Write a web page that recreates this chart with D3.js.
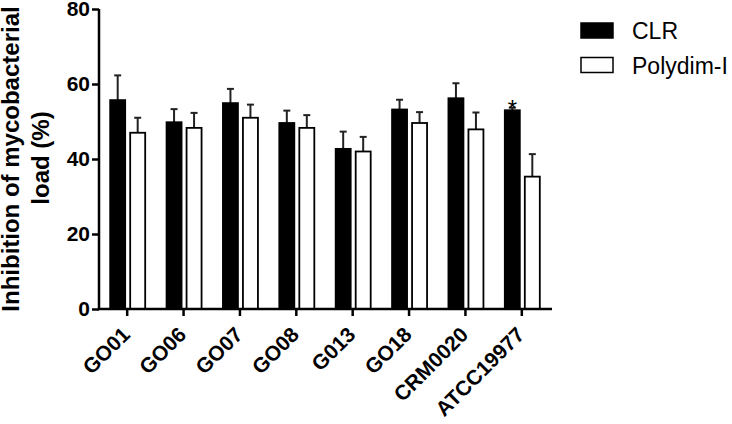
<!DOCTYPE html>
<html>
<head>
<meta charset="utf-8">
<script src="https://cdn.jsdelivr.net/npm/d3@7"></script>
<style>
  body { margin: 0; background: #fff; }
  text { font-family: Arial, "Liberation Sans", sans-serif; }
  .axis text { font-weight: bold; font-size: 21px; fill: #000; }
  .axis path, .axis line { stroke: #000; stroke-width: 2.5px; }
</style>
</head>
<body>
<div id="plotSect"></div>
<script>
// data //
let strains = ["GO01", "GO06", "GO07", "GO08", "G013", "GO18", "CRM0020", "ATCC19977"];
let seriesNames = ["CLR", "Polydim-I"];
let clrMean = [55.7, 49.8, 54.9, 49.6, 42.7, 53.2, 56.2, 53.0];
let clrErr = [6.6, 3.5, 3.8, 3.3, 4.6, 2.6, 4.0, 0.7];
let polyMean = [47.0, 48.3, 51.0, 48.3, 42.0, 49.6, 47.9, 35.3];
let polyErr = [4.0, 4.0, 3.5, 3.4, 3.9, 2.9, 4.5, 6.0];
let yTicks = [0, 20, 40, 60, 80];
let starred = ["ATCC19977"];

let SVGwidth = 732,
    SVGheight = 424;

let svg = d3.select("#plotSect").append("svg")
    .attr("width", SVGwidth)
    .attr("height", SVGheight);

let xScale = d3.scaleBand().domain(strains).range([99, 550]).padding(0);
let yScale = d3.scaleLinear().domain([0, 80]).range([309, 9]);

let fills = ["#000", "#fff"];
let means = [clrMean, polyMean];
let errs = [clrErr, polyErr];
let barW = 15;
let offsets = [-17, 3]; // from band centre

let bars = [];
strains.forEach(function(s, i) {
    for (let k = 0; k < 2; k++) {
        bars.push({strain: s, k: k, v: means[k][i], e: errs[k][i]});
    }
});

function barX(d) { return xScale(d.strain) + xScale.bandwidth() / 2 + offsets[d.k]; }

// error bars first, so the bar top covers the stem base
svg.selectAll(".errStem").data(bars).enter().append("line")
    .attr("class", "errStem")
    .attr("x1", function(d) { return barX(d) + barW / 2; })
    .attr("x2", function(d) { return barX(d) + barW / 2; })
    .attr("y1", function(d) { return yScale(d.v); })
    .attr("y2", function(d) { return yScale(d.v + d.e); })
    .style("stroke", "#222")
    .style("stroke-width", 2);

svg.selectAll(".errCap").data(bars).enter().append("line")
    .attr("class", "errCap")
    .attr("x1", function(d) { return barX(d) + barW / 2 - 3.5; })
    .attr("x2", function(d) { return barX(d) + barW / 2 + 3.5; })
    .attr("y1", function(d) { return yScale(d.v + d.e); })
    .attr("y2", function(d) { return yScale(d.v + d.e); })
    .style("stroke", "#222")
    .style("stroke-width", 2);

svg.selectAll(".bar").data(bars).enter().append("rect")
    .attr("class", "bar")
    .attr("x", barX)
    .attr("y", function(d) { return yScale(d.v); })
    .attr("width", barW)
    .attr("height", function(d) { return yScale(0) - yScale(d.v); })
    .style("fill", function(d) { return fills[d.k]; })
    .style("stroke", "#000")
    .style("stroke-width", 1.8);

// significance marks
svg.selectAll(".star").data(starred).enter().append("text")
    .attr("class", "star")
    .attr("x", function(d) { return xScale(d) + xScale.bandwidth() / 2 + offsets[0] + barW / 2; })
    .attr("y", function(d) { return yScale(clrMean[strains.indexOf(d)] + clrErr[strains.indexOf(d)]) + 9; })
    .style("text-anchor", "middle")
    .style("font-size", "24px")
    .text("*");

// axes
let yAxis = d3.axisLeft(yScale).tickValues(yTicks).tickSize(7).tickPadding(2);
svg.append("g")
    .attr("class", "axis")
    .attr("transform", "translate(99,0)")
    .call(yAxis)
    .call(function(g) { g.select(".domain").attr("d", "M0,309V9"); });

let xAxis = d3.axisBottom(xScale).tickSize(7).tickSizeOuter(0);
let xg = svg.append("g")
    .attr("class", "axis")
    .attr("transform", "translate(0,309)")
    .call(xAxis);
xg.select(".domain").attr("d", "M" + (99 - 1) + ",0H552");
xg.selectAll(".tick text")
    .attr("y", 0)
    .attr("dy", 0)
    .style("text-anchor", "end")
    .attr("transform", "translate(4,27) rotate(-45)")
    .style("font-size", "21px");

// y axis title
svg.append("text")
    .attr("transform", "translate(19,159) rotate(-90)")
    .style("text-anchor", "middle")
    .style("font-weight", "bold")
    .style("font-size", "24px")
    .text("Inhibition of mycobacterial");
svg.append("text")
    .attr("transform", "translate(49,158) rotate(-90)")
    .style("text-anchor", "middle")
    .style("font-weight", "bold")
    .style("font-size", "24px")
    .text("load (%)");

// legend
let legend = svg.selectAll(".legend").data(seriesNames).enter().append("g")
    .attr("class", "legend")
    .attr("transform", function(d, i) { return "translate(581," + (23 + i * 34.5) + ")"; });

legend.append("rect")
    .attr("width", 32)
    .attr("height", 15)
    .style("fill", function(d, i) { return fills[i]; })
    .style("stroke", "#000")
    .style("stroke-width", 1.5);

legend.append("text")
    .attr("x", 51)
    .attr("y", 16)
    .style("font-size", "23px")
    .text(function(d) { return d; });
</script>
</body>
</html>
